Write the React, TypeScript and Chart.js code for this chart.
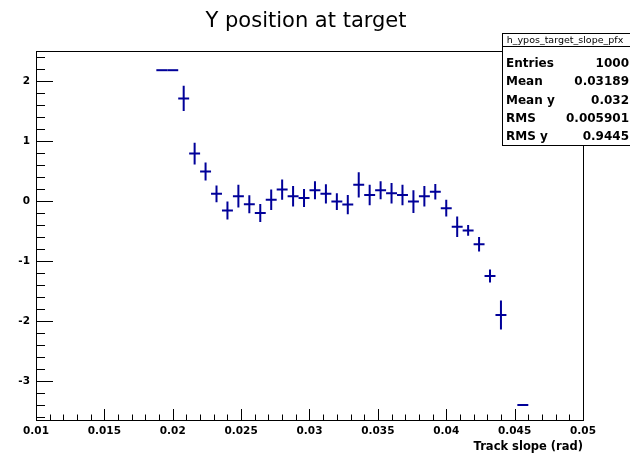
import React, { useEffect, useRef } from "react";
import { Chart, registerables } from "chart.js";

Chart.register(...registerables);

// Profile bins: centre of each track-slope bin (rad)
const binCenters = [
  0.0192, 0.02, 0.0208, 0.0216, 0.0224, 0.0232, 0.024, 0.0248, 0.0256, 0.0264,
  0.0272, 0.028, 0.0288, 0.0296, 0.0304, 0.0312, 0.032, 0.0328, 0.0336, 0.0344,
  0.0352, 0.036, 0.0368, 0.0376, 0.0384, 0.0392, 0.04, 0.0408, 0.0416, 0.0424,
  0.0432, 0.044, 0.0456,
];
// Mean Y position in each bin
const yMeans = [
  2.18, 2.18, 1.71, 0.79, 0.49, 0.12, -0.16, 0.08, -0.055, -0.2,
  0.02, 0.19, 0.08, 0.05, 0.18, 0.12, -0.01, -0.06, 0.27, 0.1,
  0.18, 0.13, 0.1, -0.01, 0.08, 0.155, -0.12, -0.43, -0.49, -0.72,
  -1.25, -1.9, -3.4,
];
// Error on the mean in each bin
const yErrors = [
  0, 0, 0.21, 0.18, 0.15, 0.14, 0.15, 0.19, 0.15, 0.15,
  0.17, 0.17, 0.17, 0.15, 0.15, 0.16, 0.14, 0.16, 0.21, 0.17,
  0.15, 0.17, 0.17, 0.19, 0.17, 0.13, 0.14, 0.17, 0.09, 0.12,
  0.11, 0.24, 0,
];
const BIN_WIDTH = 0.0008;

const X_MIN = 0.01;
const X_MAX = 0.05;
const Y_MIN = -3.65;
const Y_MAX = 2.5;

const TITLE = "Y position at target";
const X_TITLE = "Track slope (rad)";
const HIST_NAME = "h_ypos_target_slope_pfx";
const statLabels = ["Entries", "Mean", "Mean y", "RMS", "RMS y"];
const statValues = ["1000", "0.03189", "0.032", "0.005901", "0.9445"];

const FONT = '"DejaVu Sans", "Liberation Sans", sans-serif';
const MARK_COLOR = "#000099";

const rootStyle = {
  id: "rootStyle",
  beforeDraw(chart: any) {
    const ctx = chart.ctx;
    ctx.save();
    ctx.fillStyle = "#ffffff";
    ctx.fillRect(0, 0, chart.width, chart.height);
    ctx.restore();
  },
  afterDatasetsDraw(chart: any) {
    const ctx = chart.ctx;
    const xs = chart.scales.x;
    const ys = chart.scales.y;
    ctx.save();
    ctx.strokeStyle = MARK_COLOR;
    ctx.lineWidth = 2;
    for (let i = 0; i < binCenters.length; i++) {
      const xc = binCenters[i];
      const y = yMeans[i];
      const e = yErrors[i];
      const px0 = xs.getPixelForValue(xc - BIN_WIDTH / 2);
      const px1 = xs.getPixelForValue(xc + BIN_WIDTH / 2);
      const pxc = xs.getPixelForValue(xc);
      const py = ys.getPixelForValue(y);
      ctx.beginPath();
      ctx.moveTo(px0, py);
      ctx.lineTo(px1, py);
      if (e > 0) {
        ctx.moveTo(pxc, ys.getPixelForValue(y + e));
        ctx.lineTo(pxc, ys.getPixelForValue(y - e));
      }
      ctx.stroke();
    }
    ctx.restore();
  },
  afterDraw(chart: any) {
    const ctx = chart.ctx;
    const xs = chart.scales.x;
    const ys = chart.scales.y;
    const { left, right, top, bottom } = chart.chartArea;
    ctx.save();
    ctx.strokeStyle = "#000000";
    ctx.lineWidth = 1;

    // frame
    ctx.strokeRect(Math.round(left) + 0.5, Math.round(top) + 0.5,
      Math.round(right - left), Math.round(bottom - top));

    // x-axis tick marks, pointing into the frame
    ctx.beginPath();
    for (let k = 0; k <= 40; k++) {
      const v = X_MIN + k * 0.001;
      const px = Math.round(xs.getPixelForValue(v)) + 0.5;
      const len = k % 5 === 0 ? 11 : 5.5;
      ctx.moveTo(px, bottom);
      ctx.lineTo(px, bottom - len);
    }
    // y-axis tick marks
    for (let k = -18; k <= 12; k++) {
      const v = k * 0.2;
      if (v < Y_MIN || v > Y_MAX) continue;
      const py = Math.round(ys.getPixelForValue(v)) + 0.5;
      const len = k % 5 === 0 ? 17 : 9;
      ctx.moveTo(left, py);
      ctx.lineTo(left + len, py);
    }
    ctx.stroke();

    // title
    ctx.fillStyle = "#000000";
    ctx.font = `21px ${FONT}`;
    ctx.textAlign = "center";
    ctx.textBaseline = "alphabetic";
    ctx.fillText(TITLE, 306, 27);

    // x-axis title
    ctx.font = `bold 11.5px ${FONT}`;
    ctx.textAlign = "right";
    ctx.fillText(X_TITLE, right, 450);

    // statistics box
    const bx = 502.5, by = 33.5, bw = 140, bh = 112;
    ctx.fillStyle = "#ffffff";
    ctx.fillRect(bx, by, bw, bh);
    ctx.strokeRect(bx, by, bw, bh);
    ctx.beginPath();
    ctx.moveTo(bx, 46.5);
    ctx.lineTo(bx + bw, 46.5);
    ctx.stroke();
    ctx.fillStyle = "#000000";
    ctx.font = `9.5px ${FONT}`;
    ctx.textAlign = "center";
    ctx.textBaseline = "middle";
    ctx.fillText(HIST_NAME, 565, 40.5);
    ctx.font = `bold 12px ${FONT}`;
    const rowY = [63.5, 82, 100.5, 118.5, 137];
    for (let i = 0; i < statLabels.length; i++) {
      ctx.textAlign = "left";
      ctx.fillText(statLabels[i], 506, rowY[i]);
      ctx.textAlign = "right";
      ctx.fillText(statValues[i], 629, rowY[i]);
    }
    ctx.restore();
  },
};

export default function App() {
  const canvasRef = useRef<HTMLCanvasElement | null>(null);

  useEffect(() => {
    document.body.style.margin = "0";
    const canvas = canvasRef.current;
    if (!canvas) return;
    const chart = new Chart(canvas, {
      type: "scatter",
      data: {
        datasets: [
          {
            label: HIST_NAME,
            data: binCenters.map((x, i) => ({ x, y: yMeans[i] })),
            pointRadius: 0,
            showLine: false,
          },
        ],
      },
      options: {
        animation: false,
        responsive: false,
        devicePixelRatio: 1,
        layout: { padding: { top: 51, right: 47, left: 0, bottom: 0 } },
        plugins: {
          legend: { display: false },
          tooltip: { enabled: false },
          title: { display: false },
        },
        scales: {
          x: {
            type: "linear",
            min: X_MIN,
            max: X_MAX,
            grid: { display: false, drawTicks: false },
            border: { display: false },
            afterFit: (s: any) => {
              s.height = 35;
            },
            ticks: {
              stepSize: 0.005,
              includeBounds: false,
              padding: 5,
              color: "#000000",
              font: { family: FONT, size: 10.5, weight: "bold" },
              maxRotation: 0,
              autoSkip: false,
              callback: (v: any) => String(Number(Number(v).toFixed(4))),
            },
          },
          y: {
            type: "linear",
            min: Y_MIN,
            max: Y_MAX,
            grid: { display: false, drawTicks: false },
            border: { display: false },
            afterFit: (s: any) => {
              s.width = 36;
            },
            ticks: {
              stepSize: 1,
              includeBounds: false,
              padding: 6,
              color: "#000000",
              font: { family: FONT, size: 10.5, weight: "bold" },
              callback: (v: any) => String(Math.round(Number(v))),
            },
          },
        },
      },
      plugins: [rootStyle],
    });
    return () => chart.destroy();
  }, []);

  return (
    <canvas
      ref={canvasRef}
      width={630}
      height={455}
      style={{ display: "block", width: 630, height: 455 }}
    />
  );
}
